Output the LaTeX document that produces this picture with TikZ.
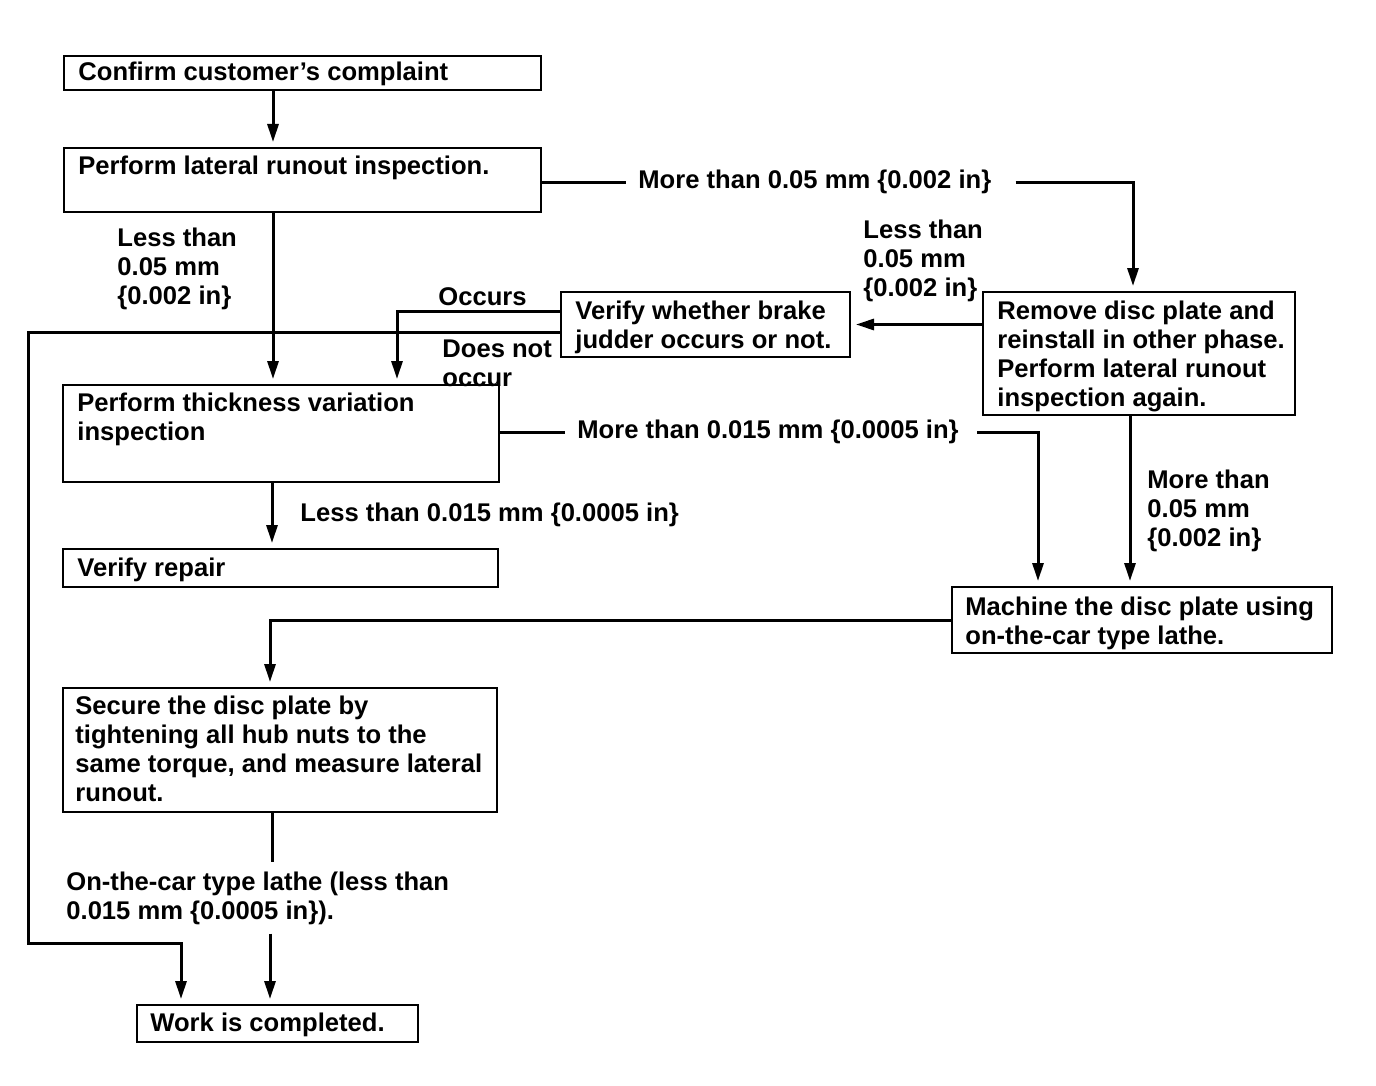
\documentclass[tikz,border=0pt]{standalone}
\usepackage{fontspec}
\setmainfont{Liberation Sans}
\usetikzlibrary{fit,arrows.meta}
\newcommand\lblfont{\fontsize{12.8pt}{14.5pt}\selectfont\bfseries}
\begin{document}
\begin{tikzpicture}[x=0.5pt,y=-0.5pt,
  box/.style={draw,line width=1pt,inner sep=0pt,rectangle},
  txt/.style={inner sep=0pt,align=left,anchor=north west,font=\lblfont},
  inl/.style={inner xsep=6pt,inner ysep=0pt,anchor=west,font=\lblfont},
  con/.style={line width=1.5pt},
  arr/.style={line width=1.5pt,-{Triangle[length=9pt,width=5.5pt]},shorten >=2.5pt}]
\useasboundingbox (0,0) rectangle (1376,1086);
% boxes
\node[box,fit={(64,56) (541,90)}] (b1) {};
\node[box,fit={(64,148) (541,212)}] (b2) {};
\node[box,fit={(983,292) (1295,415)}] (b3) {};
\node[box,fit={(561,292) (850,357)}] (b4) {};
\node[box,fit={(63,385) (499,482)}] (b5) {};
\node[box,fit={(63,549) (498,587)}] (b6) {};
\node[box,fit={(952,587) (1332,653)}] (b7) {};
\node[box,fit={(63,688) (497,812)}] (b8) {};
\node[box,fit={(137,1005) (418,1042)}] (b9) {};
% box texts
\node[txt] (t1) at (78,62) {Confirm customer's complaint};
\node[txt] (t2) at (78,156) {Perform lateral runout inspection.};
\node[txt] (t3) at (997,301) {Remove disc plate and\\reinstall in other phase.\\Perform lateral runout\\inspection again.};
\node[txt] (t4) at (575,301) {Verify whether brake\\judder occurs or not.};
\node[txt] (t5) at (77,393) {Perform thickness variation\\inspection};
\node[txt] (t6) at (77,558) {Verify repair};
\node[txt] (t7) at (965,597) {Machine the disc plate using\\on-the-car type lathe.};
\node[txt] (t8) at (75,696) {Secure the disc plate by\\tightening all hub nuts to the\\same torque, and measure lateral\\runout.};
\node[txt] (t9) at (150,1013) {Work is completed.};
% labels
\node[inl] (l1) at (626,182) {More than 0.05 mm \{0.002 in\}};
\node[txt] (l4) at (117,228) {Less than\\0.05 mm\\\{0.002 in\}};
\node[txt] (l5) at (863,220) {Less than\\0.05 mm\\\{0.002 in\}};
\node[txt] (l6) at (438,287) {Occurs};
\node[txt] (l8) at (442,339) {Does not\\occur};
\node[inl] (l11) at (565,432) {More than 0.015 mm \{0.0005 in\}};
\node[txt] (l12) at (1147,470) {More than\\0.05 mm\\\{0.002 in\}};
\node[txt] (l13) at (300,503) {Less than 0.015 mm \{0.0005 in\}};
\node[txt] (l17) at (66,872) {On-the-car type lathe (less than\\0.015 mm \{0.0005 in\}).};
% helper coordinates
\coordinate (x181) at (181,0);
\coordinate (x270) at (270,0);
\coordinate (x272) at (272,0);
\coordinate (x273) at (273,0);
\coordinate (x397) at (397,0);
\coordinate (x1038) at (1038,0);
\coordinate (x1130) at (1130,0);
\coordinate (x1133) at (1133,0);
\coordinate (o1) at (0,311);
\coordinate (d1) at (28,332);
\coordinate (d2) at (28,943);
% connectors
\draw[arr] (b1.south -| x273) -- (b2.north -| x273);
\draw[con] (b2.east |- l1.west) -- (l1.west);
\draw[arr,shorten <=6pt] (l1.east) -| (b3.north -| x1133);
\draw[arr] (b2.south -| x273) -- (b5.north -| x273);
\draw[arr] (b3.west |- b4.east) -- (b4.east);
\draw[arr] (b4.west |- o1) -| (b5.north -| x397);
\draw[arr] (b4.west |- d1) -- (d1) -- (d2) -| (b9.north -| x181);
\draw[con] (b5.east |- l11.west) -- (l11.west);
\draw[arr,shorten <=3pt] (l11.east) -| (b7.north -| x1038);
\draw[arr] (b3.south -| x1130) -- (b7.north -| x1130);
\draw[arr] (b5.south -| x272) -- (b6.north -| x272);
\draw[arr] (b7.west) -| (b8.north -| x270);
\draw[con,shorten >=5pt] (b8.south -| x272) -- (l17.north -| x272);
\draw[arr,shorten <=4pt] (l17.south -| x270) -- (b9.north -| x270);
\end{tikzpicture}
\end{document}
